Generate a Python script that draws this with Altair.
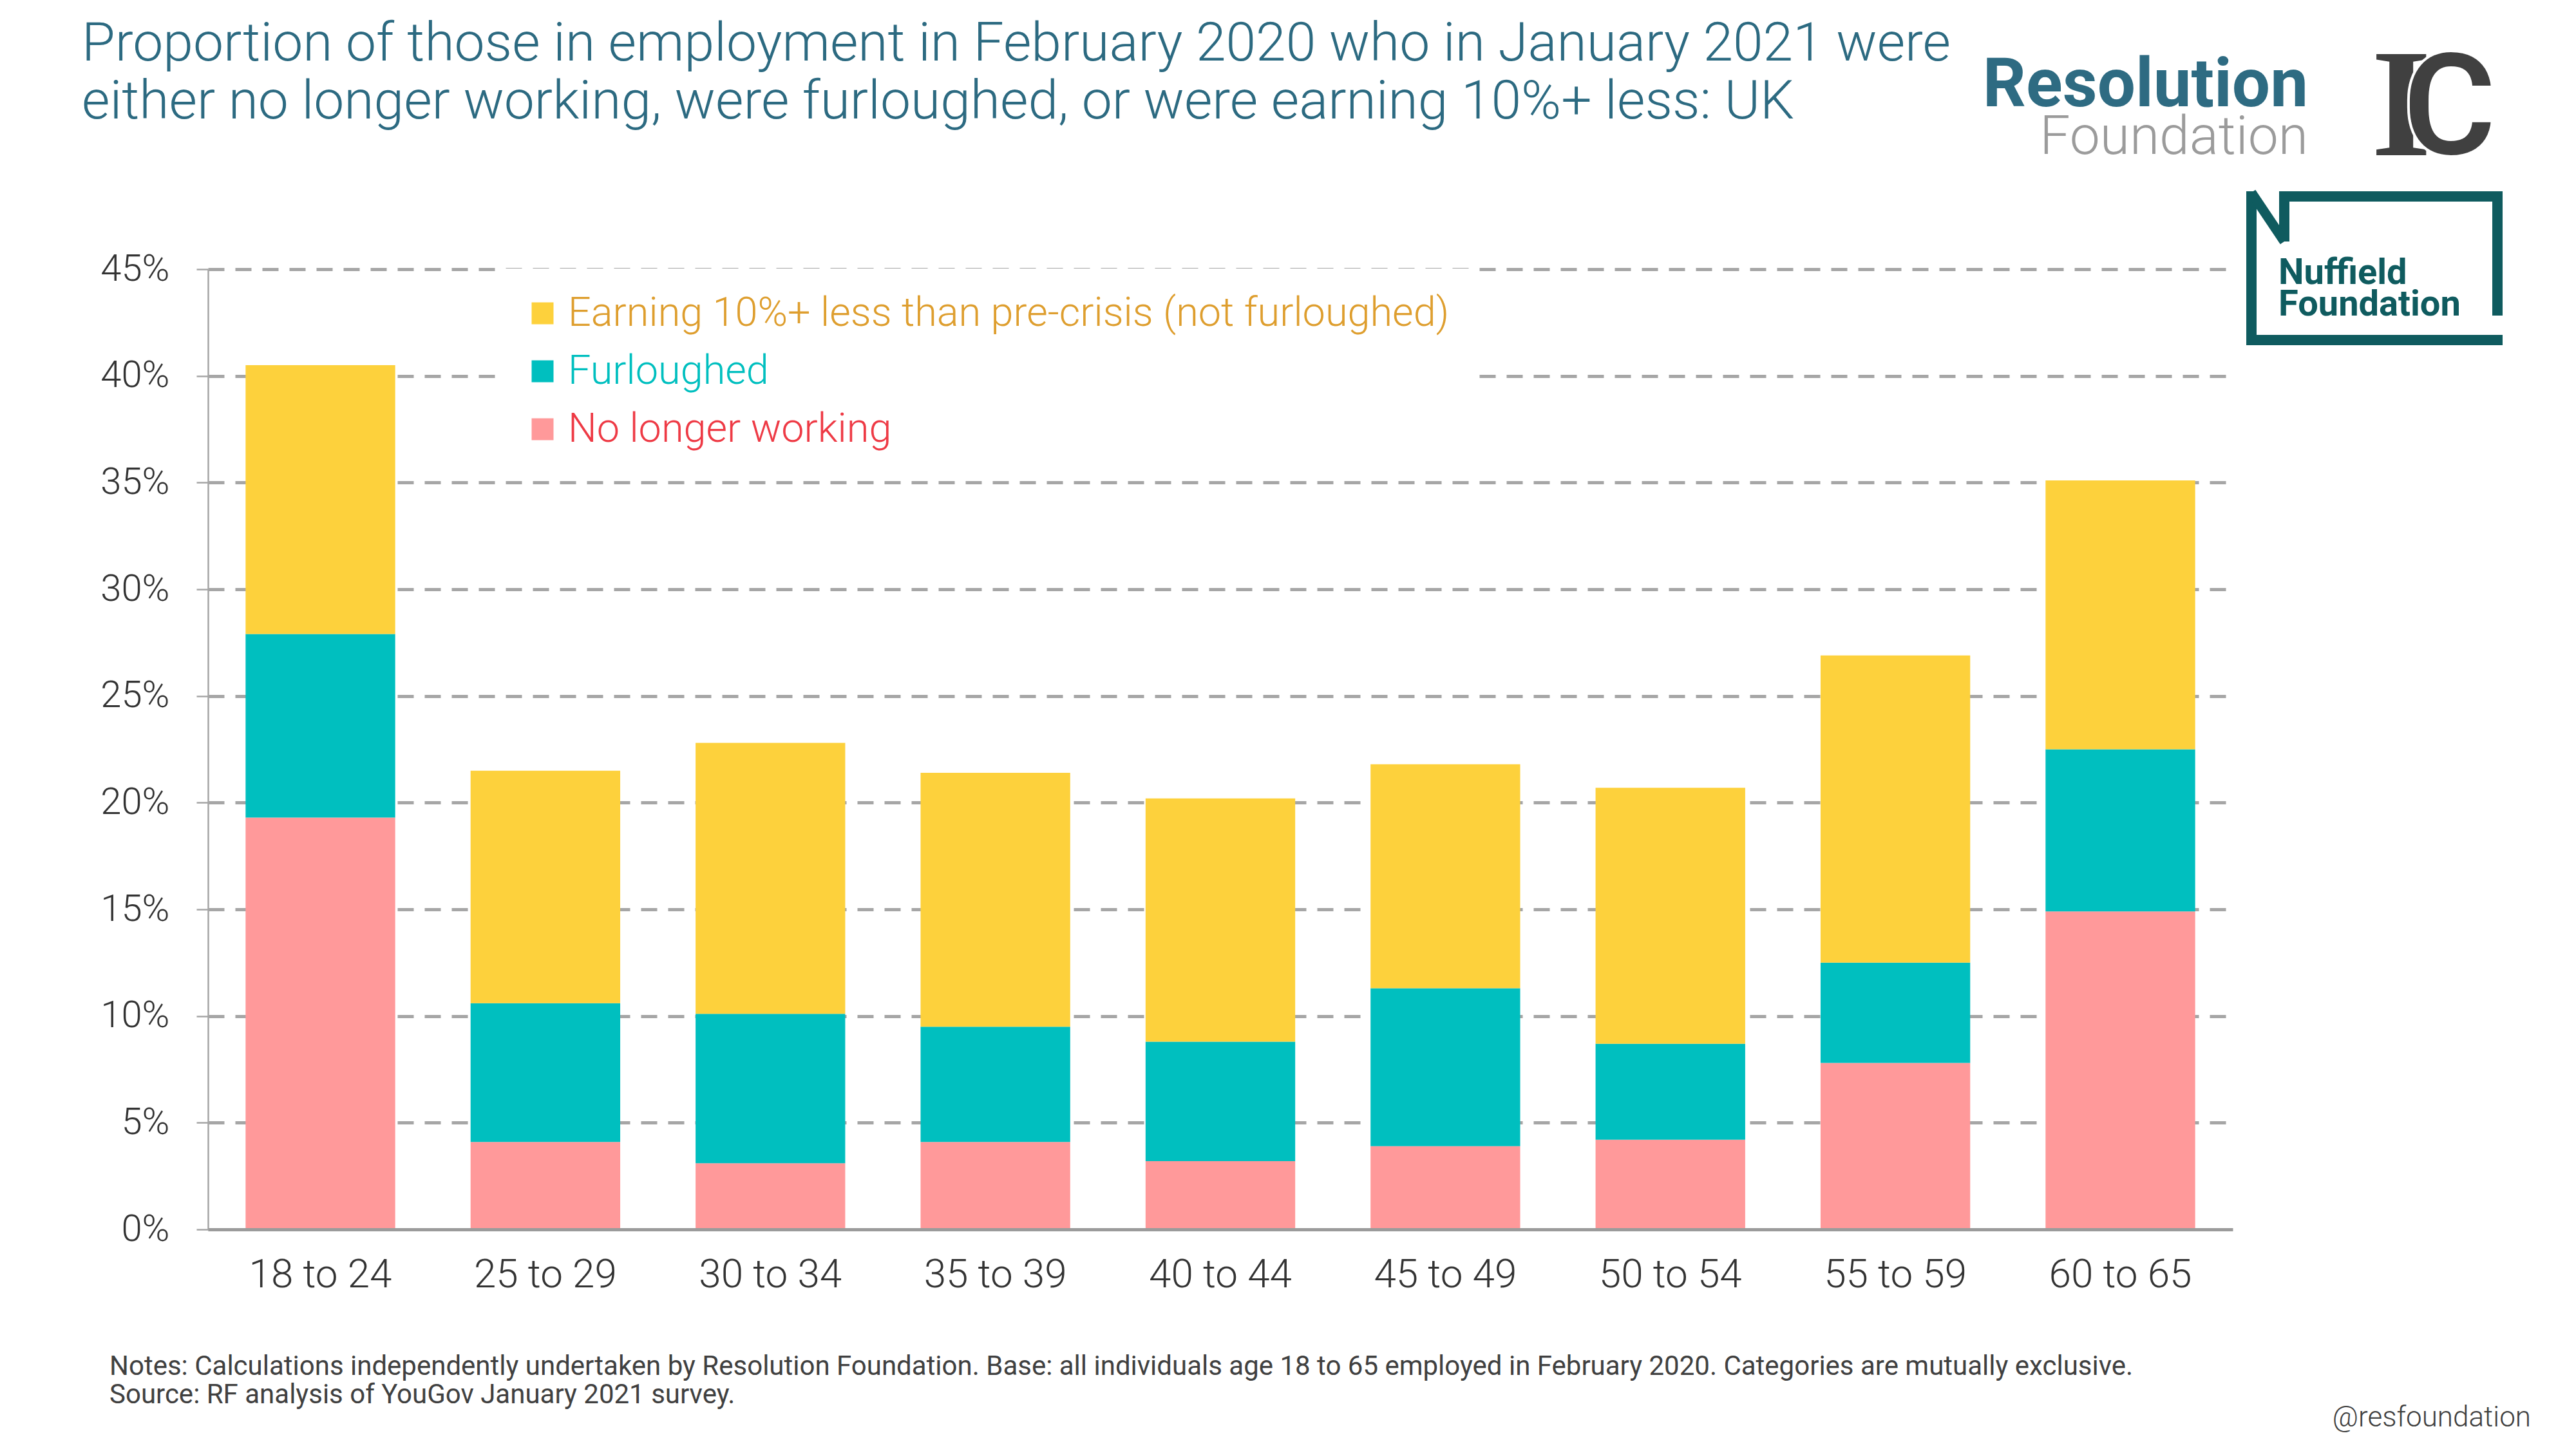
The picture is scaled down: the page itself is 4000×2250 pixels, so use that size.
import altair as alt
import pandas as pd

# ---------------- data ----------------
age_groups = ["18 to 24", "25 to 29", "30 to 34", "35 to 39", "40 to 44",
              "45 to 49", "50 to 54", "55 to 59", "60 to 65"]
no_longer_working = [19.3, 4.1, 3.1, 4.1, 3.2, 3.9, 4.2, 7.8, 14.9]
furloughed = [8.6, 6.5, 7.0, 5.4, 5.6, 7.4, 4.5, 4.7, 7.6]
earning_less = [12.6, 10.9, 12.7, 11.9, 11.4, 10.5, 12.0, 14.4, 12.6]

series_names = ["Earning 10%+ less than pre-crisis (not furloughed)",
                "Furloughed", "No longer working"]
series_colors = ["#FDD13C", "#00BFBF", "#FF999A"]
label_colors = ["#DE9E2E", "#00BFBF", "#EE3A45"]
y_ticks = [0, 5, 10, 15, 20, 25, 30, 35, 40, 45]

title_lines = ["Proportion of those in employment in February 2020 who in January 2021 were",
               "either no longer working, were furloughed, or were earning 10%+ less: UK"]
notes_lines = ["Notes: Calculations independently undertaken by Resolution Foundation. Base: all individuals age 18 to 65 employed in February 2020. Categories are mutually exclusive.",
               "Source: RF analysis of YouGov January 2021 survey."]

rows = []
for i, g in enumerate(age_groups):
    rows.append({"age": g, "series": series_names[2], "value": no_longer_working[i], "o": 0})
    rows.append({"age": g, "series": series_names[1], "value": furloughed[i], "o": 1})
    rows.append({"age": g, "series": series_names[0], "value": earning_less[i], "o": 2})
df = pd.DataFrame(rows)
one = pd.DataFrame({"k": [0]})

FONT = "Roboto"
W, H = 3144, 1491

label_color_expr = (
    f"datum.label == '{series_names[1]}' ? '{label_colors[1]}' : "
    f"datum.label == '{series_names[2]}' ? '{label_colors[2]}' : '{label_colors[0]}'"
)

bars = alt.Chart(df).mark_bar().encode(
    x=alt.X("age:N", sort=age_groups, title=None,
            scale=alt.Scale(paddingInner=0.335, paddingOuter=0.167),
            axis=alt.Axis(labelAngle=0, ticks=False, domainColor="#9B9B9B", domainWidth=5,
                          labelPadding=40, labelFont=FONT, labelFontSize=62, labelFontWeight=300,
                          labelColor="#333333", labelLimit=1000, grid=False, zindex=1)),
    y=alt.Y("value:Q", stack="zero", title=None,
            scale=alt.Scale(domain=[0, 45], nice=False),
            axis=alt.Axis(values=y_ticks, labelExpr="datum.value + '%'", grid=True,
                          gridColor="#A6A6A6", gridWidth=5, gridDash=[25, 17],
                          domainColor="#A6A6A6", domainWidth=2.5, tickColor="#A6A6A6",
                          tickWidth=2.5, tickSize=18, labelPadding=42, labelFont=FONT,
                          labelFontSize=58, labelFontWeight=300, labelColor="#333333")),
    color=alt.Color("series:N", scale=alt.Scale(domain=series_names, range=series_colors),
                    legend=alt.Legend(title=None, orient="none", legendX=450, legendY=-1,
                                      direction="vertical", symbolType="square",
                                      symbolSize=1156, symbolStrokeWidth=0,
                                      labelFont=FONT, labelFontSize=63, labelFontWeight=300,
                                      labelColor=alt.ExprRef(expr=label_color_expr),
                                      labelLimit=3000, rowPadding=26, labelOffset=8,
                                      padding=38, fillColor="white")),
    order=alt.Order("o:Q"),
)

def text_layer(txt, x, y, size, color, weight=300, align="left", font=FONT, line_height=None, **kw):
    props = dict(align=align, baseline="alphabetic", font=font, fontSize=size,
                 fontWeight=weight, color=color, **kw)
    if line_height:
        props["lineHeight"] = line_height
    return alt.Chart(one).mark_text(**props).encode(
        x=alt.value(x), y=alt.value(y), text=alt.value(txt))

title = text_layer(title_lines, -196, -324, 84, "#2C6A81", line_height=90)
notes = text_layer(notes_lines, -153, 1717, 42, "#404040", weight=400, line_height=44)
handle = text_layer("@resfoundation", 3607, 1797, 44, "#404040", align="right")

rf1 = text_layer("Resolution", 3261, -253, 105, "#2E6B82", weight=700, align="right")
rf2 = text_layer("Foundation", 3261, -179, 84, "#9B9B9B", weight=300, align="right")

ic_i = text_layer("I", 3359, -177, 240, "#404040", weight=700, font="Liberation Serif")
ic_c = text_layer("C", 3554, -177, 224, "#404040", weight=700, align="right",
                  stroke="white", strokeWidth=4)

NF = "#0F5B5F"
def seg(x1, y1, x2, y2, w=16):
    return alt.Chart(one).mark_rule(color=NF, strokeWidth=w).encode(
        x=alt.value(x1), y=alt.value(y1), x2=alt.value(x2), y2=alt.value(y2))

nuff = [
    seg(3173, -121, 3173, 118),
    seg(3165, 110, 3563, 110),
    seg(3555, -121, 3555, 72),
    seg(3216, -113, 3563, -113),
    seg(3224, -121, 3224, -43),
    seg(3173, -119, 3224, -43, 15),
]
nuff_text = text_layer(["Nuffield", "Foundation"], 3215, 23, 56, NF, weight=700, line_height=49)

chart = alt.layer(bars, title, notes, handle, rf1, rf2, ic_i, ic_c, *nuff, nuff_text).properties(
    width=W, height=H,
    padding={"left": 315, "top": 410, "right": 520, "bottom": 325},
    autosize=alt.AutoSizeParams(type="none"),
    background="white",
).configure_view(stroke=None)

chart.save("out.html", embed_options={"renderer": "svg", "actions": False})
